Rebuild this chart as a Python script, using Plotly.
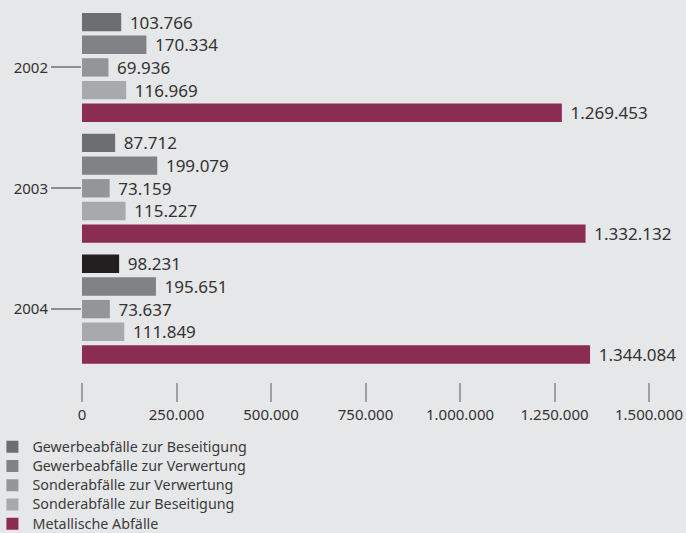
import plotly.graph_objects as go

# Waste volumes per year (in tonnes)
years = ["2002", "2003", "2004"]
series_names = [
    "Gewerbeabfälle zur Beseitigung",
    "Gewerbeabfälle zur Verwertung",
    "Sonderabfälle zur Verwertung",
    "Sonderabfälle zur Beseitigung",
    "Metallische Abfälle",
]
gewerbe_beseitigung = [103766, 87712, 98231]
gewerbe_verwertung = [170334, 199079, 195651]
sonder_verwertung = [69936, 73159, 73637]
sonder_beseitigung = [116969, 115227, 111849]
metallische = [1269453, 1332132, 1344084]

x_ticks = [0, 250000, 500000, 750000, 1000000, 1250000, 1500000]

series_values = [
    gewerbe_beseitigung,
    gewerbe_verwertung,
    sonder_verwertung,
    sonder_beseitigung,
    metallische,
]
series_colors = [
    ["#6d6e71", "#6d6e71", "#231f20"],
    "#808285",
    "#939598",
    "#a7a9ac",
    "#8b2d52",
]

BG = "#e6e7e8"
TEXT = "#333333"
FONT = "Noto Sans"

fig = go.Figure()
for name, vals, col in zip(series_names, series_values, series_colors):
    fig.add_trace(
        go.Bar(
            y=years,
            x=vals,
            # slightly larger label text inside a compact legend row
            name=f"<span style='font-size:14.3px'>{name}</span>",
            orientation="h",
            marker=dict(color=col, line=dict(width=0)),
            texttemplate="\u2004%{x:,}",
            textposition="outside",
            textfont=dict(family=FONT, size=17, color=TEXT),
            constraintext="none",
            cliponaxis=False,
            hoverinfo="skip",
        )
    )

fig.update_layout(
    width=686,
    height=533,
    paper_bgcolor=BG,
    plot_bgcolor=BG,
    separators=",.",
    barmode="group",
    bargap=0.062,
    bargroupgap=0.19,
    margin=dict(l=82.3, r=36.5, t=6.5, b=151, pad=0, autoexpand=False),
    font=dict(family=FONT, color=TEXT),
    showlegend=True,
    legend=dict(
        orientation="v",
        x=-0.158,
        xanchor="left",
        y=-0.1337,
        yanchor="top",
        maxheight=1,
        bgcolor="rgba(0,0,0,0)",
        font=dict(family=FONT, size=12.5, color="#3b3b3b"),
        traceorder="normal",
        itemclick=False,
        tracegroupgap=0,
    ),
    xaxis=dict(
        range=[0, 1500000],
        tickvals=x_ticks,
        tickformat=",d",
        showgrid=False,
        zeroline=False,
        showline=False,
        ticks="outside",
        ticklen=19,
        tickwidth=1.5,
        tickcolor="#9d9fa2",
        tickfont=dict(family=FONT, size=15, color=TEXT),
        fixedrange=True,
    ),
    yaxis=dict(
        type="category",
        range=[2.603, -0.5],
        showgrid=False,
        zeroline=False,
        showline=False,
        ticks="outside",
        ticklen=30,
        tickwidth=1.5,
        tickcolor="#8c8e91",
        tickfont=dict(family=FONT, size=15, color=TEXT),
        fixedrange=True,
    ),
)

fig.write_html("out.html")
